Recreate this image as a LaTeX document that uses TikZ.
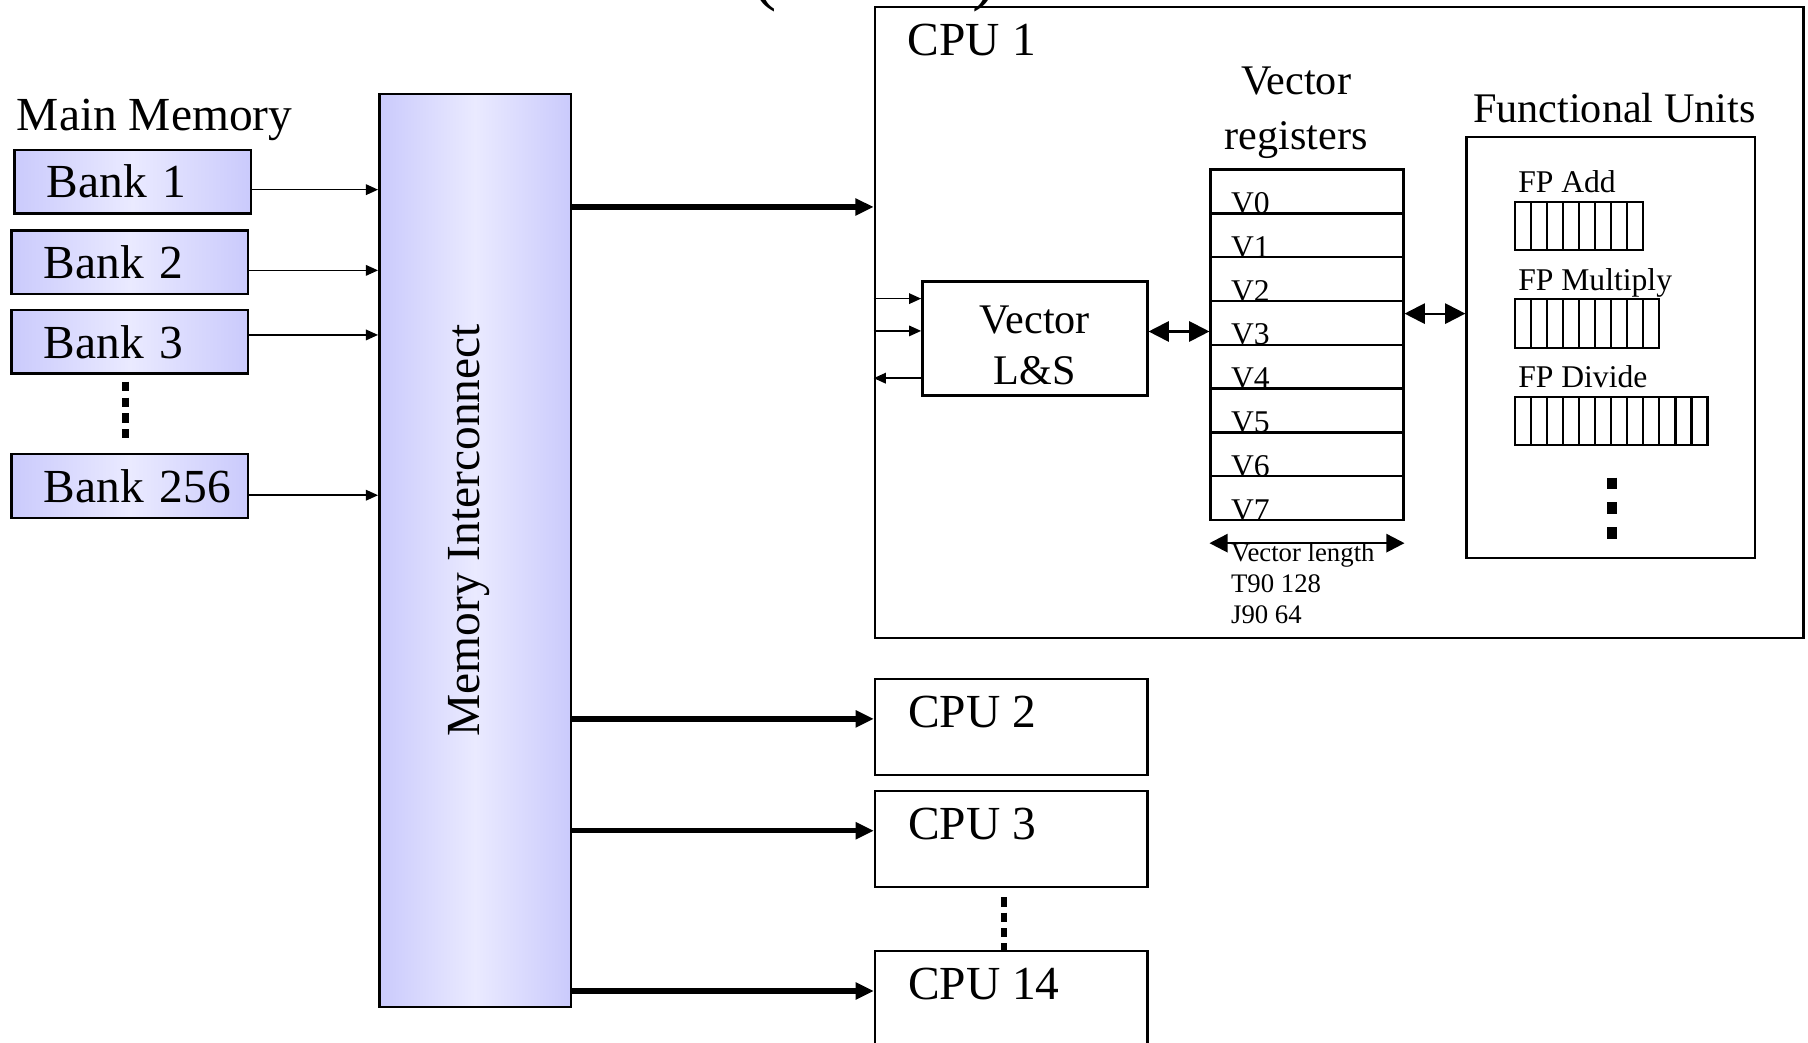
\documentclass[tikz,border=0pt]{standalone}
\usepackage{fontspec}
\setmainfont{Liberation Serif}
\usetikzlibrary{arrows.meta, positioning, calc}

\begin{document}
\begin{tikzpicture}[x=0.01cm,y=-0.01cm,>=stealth,
    box/.style={draw, line width=0.6pt, inner sep=0pt},
    bigtxt/.style={font=\fontsize{11.7}{14}\selectfont, inner sep=0pt},
    midtxt/.style={font=\fontsize{10.4}{12.6}\selectfont, inner sep=0pt},
    smalltxt/.style={font=\fontsize{7.8}{9}\selectfont, inner sep=0pt},
    tinytxt/.style={font=\fontsize{6.6}{7.7}\selectfont, inner sep=0pt},
    bankbox/.style={box, left color=bankblue, right color=bankblue, middle color=bankglow,
        text width=2.05cm, minimum height=0.55cm, align=left,
        execute at begin node=\hspace*{0.28cm},
        font=\fontsize{11.7}{14}\selectfont},
    cpubox/.style={box, minimum width=2.36cm, minimum height=0.83cm},
    vreg/.style={box, minimum width=1.67cm, minimum height=0.38cm},
    cell/.style={draw, line width=0.55pt, minimum width=0.139cm, minimum height=0.42cm, inner sep=0pt},
    thinarr/.style={line width=0.4pt, -{Triangle[length=3pt,width=2.6pt]}},
    thickarr/.style={line width=1.3pt, -{Triangle[length=4.5pt,width=4pt]}},
    dblarr/.style={line width=0.5pt, {Triangle[length=5pt,width=5pt]}-{Triangle[length=5pt,width=5pt]}},
    vdots/.style={line width=1.6pt, dash pattern=on 2.3pt off 1.6pt}]

\useasboundingbox (0,0) rectangle (1568,904);

% Colors
\definecolor{bankblue}{RGB}{202,202,252}
\definecolor{bankglow}{RGB}{234,234,255}

% Cut-off title
\node[font=\fontsize{18}{20}\selectfont, anchor=base] (ttlopen) at (663,-3) {(};
\node[font=\fontsize{18}{20}\selectfont, anchor=base] (ttlclose) at (854,-3) {)};

% Main memory
\node[bigtxt, anchor=west] (mmlbl) at (14,104) {Main Memory};
\node[bankbox] (b1) at (115,157.5) {Bank 1};
\node[bankbox] (b2) at (112.5,227.5) {Bank 2};
\node[bankbox] (b3) at (112.5,296.5) {Bank 3};
\node[bankbox] (b256) at (112.5,421.5) {Bank 256};
\draw[vdots, line width=1.7pt, shorten <=1.7pt, shorten >=3.4pt] ([shift={(-4,0)}]b3.south) -- ([shift={(-4,0)}]b256.north);

% Interconnect
\node[box, left color=bankblue, right color=bankblue, middle color=bankglow,
    minimum width=1.66cm, minimum height=7.91cm] (mi) at (412,477.5) {};
\node[bigtxt, rotate=90] (milbl) at (407,460) {Memory Interconnect};

\foreach \b/\dy in {b1/7,b2/7,b3/-6,b256/8} {
    \coordinate (\b a) at ([shift={(0,\dy)}]\b.east);
    \draw[thinarr] (\b a) -- (\b a -| mi.west);
}

% CPUs
\node[box, minimum width=8.05cm, minimum height=5.47cm] (cpu1) at (1161.5,279.5) {};
\node[cpubox] (cpu2) at (877,630.5) {};
\node[cpubox] (cpu3) at (877,727.5) {};
\node[cpubox] (cpu14) at (877,866.5) {};
\foreach \c/\t in {cpu1/CPU 1,cpu2/CPU 2,cpu3/CPU 3,cpu14/CPU 14} {
    \node[bigtxt, anchor=base west] (\c lbl) at ([shift={(29,43)}]\c.north west) {\t};
}
\draw[vdots, line width=1.4pt, dash pattern=on 2.3pt off 1.5pt, shorten <=2.3pt] ([shift={(-6,0)}]cpu3.south) -- ([shift={(-6,0)}]cpu14.north);

\coordinate (c1in) at ([shift={(0,-100)}]cpu1.west);
\draw[thickarr] (c1in -| mi.east) -- (c1in);
\foreach \c in {cpu2,cpu3,cpu14} {
    \coordinate (\c in) at ([shift={(0,-7)}]\c.west);
    \draw[thickarr] (\c in -| mi.east) -- (\c in);
}

% Vector load/store
\node[box, minimum width=1.95cm, minimum height=0.99cm] (ls) at (897.5,293.5) {};
\node[midtxt, align=center] (lstxt) at ([shift={(0,6)}]ls.center) {Vector\\L\&S};
\foreach \n/\dy in {lsa/-34.5,lsb/-6.5,lsc/34.5} {
    \coordinate (\n) at ([shift={(0,\dy)}]ls.west);
}
\draw[thinarr] (lsa -| cpu1.west) -- (lsa);
\draw[thinarr] (lsb -| cpu1.west) -- (lsb);
\draw[thinarr] (lsc) -- (lsc -| cpu1.west);

% Vector registers
\node[midtxt, align=center] (vrlbl) at (1124,98) {Vector\\[1pt]registers};
\foreach \i in {0,...,7} {
    \node[vreg] (v\i) at (1133.5,{166+38*\i}) {};
    \node[smalltxt, anchor=base west] (vt\i) at ([shift={(18,-1)}]v\i.south west) {V\i};
}
\coordinate (lsr) at ([shift={(0,-6)}]ls.east);
\draw[dblarr] (lsr) -- (lsr -| v3.west);

\coordinate (vl1) at ([shift={(0,19)}]v7.south west);
\coordinate (vl2) at ([shift={(0,19)}]v7.south east);
\draw[dblarr, line width=0.6pt, {Triangle[length=4.5pt,width=4.5pt]}-{Triangle[length=4.5pt,width=4.5pt]}] (vl1) -- (vl2);
\node[tinytxt, anchor=north west, align=left] (vlen) at (1067,470) {Vector length\\T90 128\\J90 64};

% Functional units
\node[midtxt, anchor=base] (fulbl) at (1400,106) {Functional Units};
\node[box, minimum width=2.5cm, minimum height=3.65cm] (fu) at (1397,301.5) {};
\coordinate (vfu) at ([shift={(0,-8)}]v3.east);
\draw[dblarr] (vfu) -- (vfu -| fu.west);

\foreach \p/\n/\y/\t in {add/8/196/FP Add, mul/9/280.5/FP Multiply, div/12/365/FP Divide} {
    \foreach \k in {1,...,\n} {
        \node[cell] (\p\k) at ({1314+13.9*(\k-0.5)},\y) {};
    }
    \node[smalltxt, anchor=base west] (\p lbl) at ([shift={(3,-7)}]\p1.north west) {\t};
}
\coordinate (fud) at ([shift={(1,-71)}]fu.south);
\draw[vdots, line width=2.6pt, dash pattern=on 2.9pt off 3.2pt] (fud) -- ++(0,53);

\end{tikzpicture}
\end{document}
